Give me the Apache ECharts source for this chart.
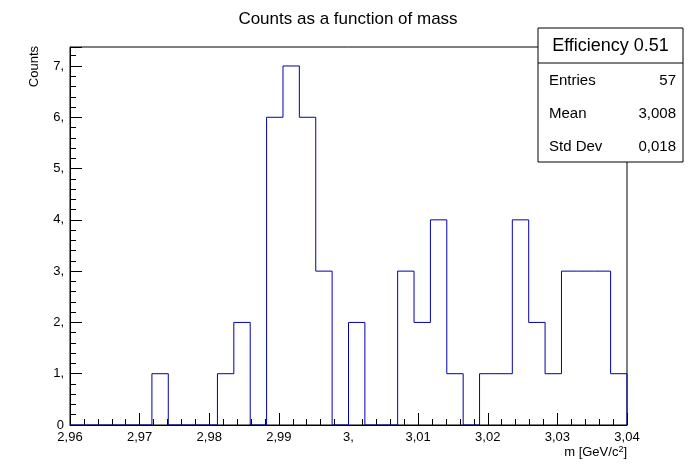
<!DOCTYPE html>
<html><head><meta charset="utf-8">
<script src="https://cdn.jsdelivr.net/npm/echarts@6/dist/echarts.min.js"></script>
<style>html,body{margin:0;padding:0;background:#fff}#c{width:696px;height:472px}</style>
</head><body><div id="c"></div>
<script>
const xMin = 2.96, xMax = 3.04, nBins = 34;
const counts = [0,0,0,0,0,1,0,0,0,1,2,0,6,7,6,3,0,2,0,0,3,2,4,1,0,1,1,4,2,1,3,3,3,1];
const stats = [["Entries","57"],["Mean","3,008"],["Std Dev","0,018"]];
const statsTitle = "Efficiency 0.51";

const w = (xMax - xMin) / nBins;
const pts = counts.map((c, i) => [xMin + i * w, c]);
pts.push([xMax, counts[nBins - 1]]);
pts.push([xMax, 0]);
const fmt = v => { let s = (Math.round(v * 1000) / 1000).toString().replace('.', ','); if (s.indexOf(',') < 0) s += ','; return s; };
const F = 'Liberation Sans, Arial, sans-serif';
const chart = echarts.init(document.getElementById('c'));
const bx = 538, by = 28, bw = 145, bh = 134;
const g = [{type:'rect',shape:{x:bx,y:by,width:bw,height:bh},style:{fill:'#fff',stroke:'#000',lineWidth:1}},
 {type:'line',shape:{x1:bx,y1:63,x2:bx+bw,y2:63},style:{stroke:'#000'}},
 {type:'text',x:bx+bw/2,y:46,style:{text:statsTitle,font:'18px '+F,fill:'#000',align:'center',verticalAlign:'middle'}},
 {type:'text',x:34,y:46,rotation:Math.PI/2,style:{text:'Counts',font:'13px '+F,fill:'#000',align:'right',verticalAlign:'middle'}}];
stats.forEach((s, i) => {
  const y = 81 + i * 33;
  g.push({type:'text',x:bx+11,y:y,style:{text:s[0],font:'15px '+F,fill:'#000',verticalAlign:'middle'}});
  g.push({type:'text',x:bx+bw-7,y:y,style:{text:s[1],font:'15px '+F,fill:'#000',align:'right',verticalAlign:'middle'}});
});
chart.setOption({
  animation:false,
  title:{text:'Counts as a function of mass',left:'center',top:6,textStyle:{fontFamily:F,fontSize:17,fontWeight:'normal',color:'#000'}},
  grid:{left:70,right:69,top:47,bottom:47,show:true,borderColor:'#000',borderWidth:1},
  xAxis:{type:'value',min:xMin,max:xMax,interval:0.01,
    name:'{a|m [GeV/c}{s|2}{a|]}',nameLocation:'end',nameGap:0,
    nameTextStyle:{align:'right',verticalAlign:'top',padding:[20,0,0,0],rich:{a:{fontFamily:F,fontSize:13,color:'#000'},s:{fontFamily:F,fontSize:9,color:'#000',verticalAlign:'top',padding:[0,0,6,0]}}},
    axisLine:{lineStyle:{color:'#000'}},axisTick:{inside:true,length:12,lineStyle:{color:'#000'}},
    minorTick:{show:true,splitNumber:5,length:6,lineStyle:{color:'#000'}},
    splitLine:{show:false},
    axisLabel:{formatter:fmt,color:'#000',fontFamily:F,fontSize:13,margin:6}},
  yAxis:{type:'value',min:0,max:7.37,interval:1,
    axisLine:{show:true,lineStyle:{color:'#000'}},axisTick:{inside:true,length:12,lineStyle:{color:'#000'}},
    minorTick:{show:true,splitNumber:5,length:6,lineStyle:{color:'#000'}},
    splitLine:{show:false},
    axisLabel:{formatter:v=>v===0?'0':v+',',showMaxLabel:false,color:'#000',fontFamily:F,fontSize:13,margin:6}},
  series:[{type:'line',step:'end',data:pts,symbol:'none',lineStyle:{color:'#0000aa',width:1},z:3}],
  graphic:g
});
</script></body></html>
